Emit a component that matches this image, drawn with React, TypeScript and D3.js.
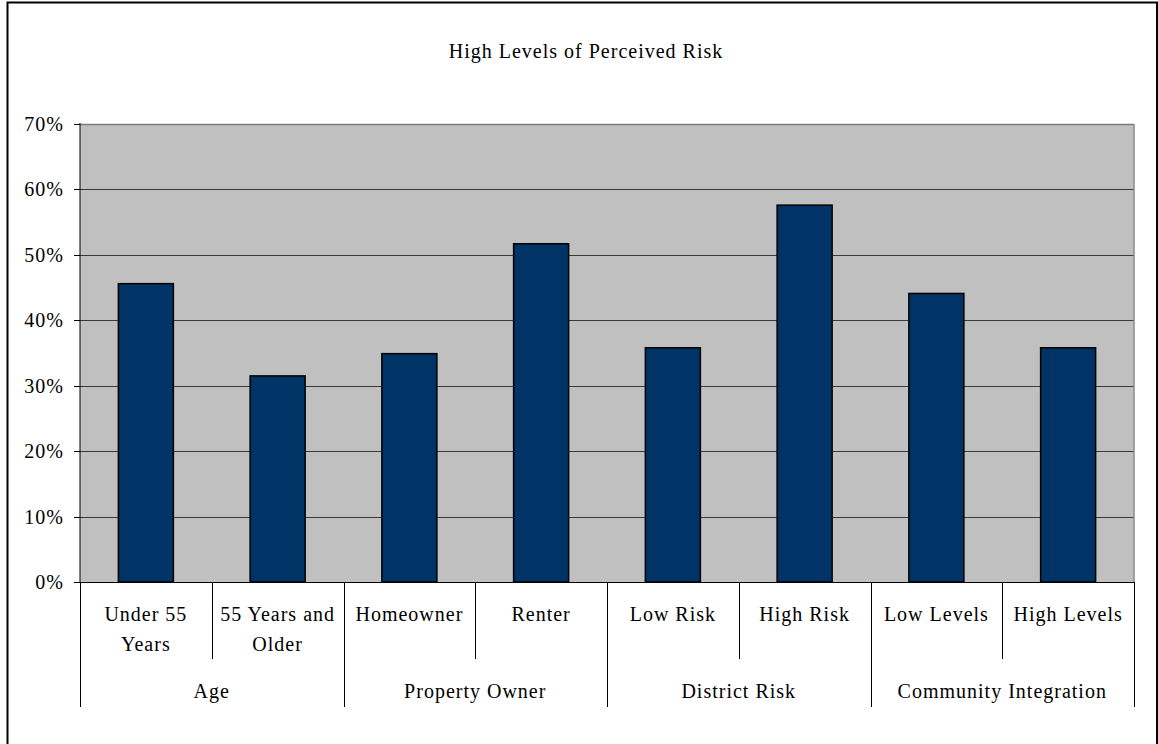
import React from "react";
import * as d3 from "d3";

const title = "High Levels of Perceived Risk";
const itemLabels: string[][] = [
  ["Under 55", "Years"],
  ["55 Years and", "Older"],
  ["Homeowner"],
  ["Renter"],
  ["Low Risk"],
  ["High Risk"],
  ["Low Levels"],
  ["High Levels"],
];
const groups = ["Age", "Property Owner", "District Risk", "Community Integration"];
const groupSizes = [2, 2, 2, 2];
const values = [0.456, 0.315, 0.349, 0.517, 0.358, 0.576, 0.441, 0.358];
const yTicks = [0, 0.1, 0.2, 0.3, 0.4, 0.5, 0.6, 0.7];

const W = 1158;
const H = 744;
const left = 80;
const right = 1134;
const top = 124;
const bottom = 582;
const font = "'Liberation Serif', 'Times New Roman', serif";

export default function App() {
  const idx = itemLabels.map((_, i) => String(i));
  const x = d3
    .scaleBand<string>()
    .domain(idx)
    .range([left, right])
    .paddingInner(0.5825)
    .paddingOuter(0.29125);
  const y = d3.scaleLinear().domain([0, 0.7]).range([bottom, top]);
  const step = (right - left) / itemLabels.length;
  const fmt = d3.format(".0%");

  const groupStarts: number[] = [];
  let acc = 0;
  groupSizes.forEach((s) => {
    groupStarts.push(acc);
    acc += s;
  });
  const groupBoundaries = new Set<number>([0, ...groupStarts.map((g, i) => g + groupSizes[i])]);

  const textStyle: React.CSSProperties = { fontFamily: font, fontSize: 20, letterSpacing: "1px" };

  return (
    <svg width={W} height={H} style={{ position: "absolute", left: 0, top: 0, background: "#fff" }}>
      <rect x={0} y={0} width={W} height={H} fill="#fff" />
      <path d="M7.5,760 V2.5 H1157 V760" fill="none" stroke="#000" strokeWidth={2} />
      <text x={586} y={58} textAnchor="middle" style={textStyle}>
        {title}
      </text>
      <rect x={left} y={top} width={right - left} height={bottom - top} fill="#c0c0c0" />
      {yTicks
        .filter((t) => t > 0 && t < 0.7)
        .map((t) => (
          <line key={t} x1={left} x2={right} y1={Math.round(y(t)) + 0.5} y2={Math.round(y(t)) + 0.5} stroke="#3a3a3a" strokeWidth={1.2} />
        ))}
      <line x1={left} x2={right} y1={top + 0.5} y2={top + 0.5} stroke="#7a7a7a" strokeWidth={1.5} />
      <line x1={right} x2={right} y1={top} y2={bottom} stroke="#8a8a8a" strokeWidth={1.5} />
      {values.map((v, i) => (
        <rect
          key={i}
          x={x(String(i))}
          y={y(v)}
          width={x.bandwidth()}
          height={y(0) - y(v)}
          fill="#003366"
          stroke="#000"
          strokeWidth={1.5}
        />
      ))}
      <line x1={left} x2={left} y1={top - 1} y2={bottom} stroke="#000" strokeWidth={1} />
      <line x1={left - 6} x2={right} y1={bottom + 0.5} y2={bottom + 0.5} stroke="#000" strokeWidth={1.2} />
      {yTicks.map((t) => (
        <g key={t}>
          <line x1={left - 6} x2={left} y1={Math.round(y(t)) + 0.5} y2={Math.round(y(t)) + 0.5} stroke="#000" strokeWidth={1} />
          <text x={64} y={y(t) + 7} textAnchor="end" style={textStyle}>
            {fmt(t)}
          </text>
        </g>
      ))}
      {d3.range(itemLabels.length + 1).map((i) => {
        const bx = Math.round(left + i * step) + 0.5;
        const long = groupBoundaries.has(i);
        return <line key={i} x1={bx} x2={bx} y1={bottom} y2={long ? 707 : 659} stroke="#000" strokeWidth={1} />;
      })}
      {itemLabels.map((lines, i) => {
        const cx = (x(String(i)) as number) + x.bandwidth() / 2;
        return (
          <text key={i} textAnchor="middle" style={textStyle}>
            {lines.map((l, j) => (
              <tspan key={j} x={cx} y={621 + j * 30}>
                {l}
              </tspan>
            ))}
          </text>
        );
      })}
      {groups.map((g, gi) => {
        const cx = left + (groupStarts[gi] + groupSizes[gi] / 2) * step;
        return (
          <text key={g} x={cx} y={698} textAnchor="middle" style={textStyle}>
            {g}
          </text>
        );
      })}
    </svg>
  );
}
